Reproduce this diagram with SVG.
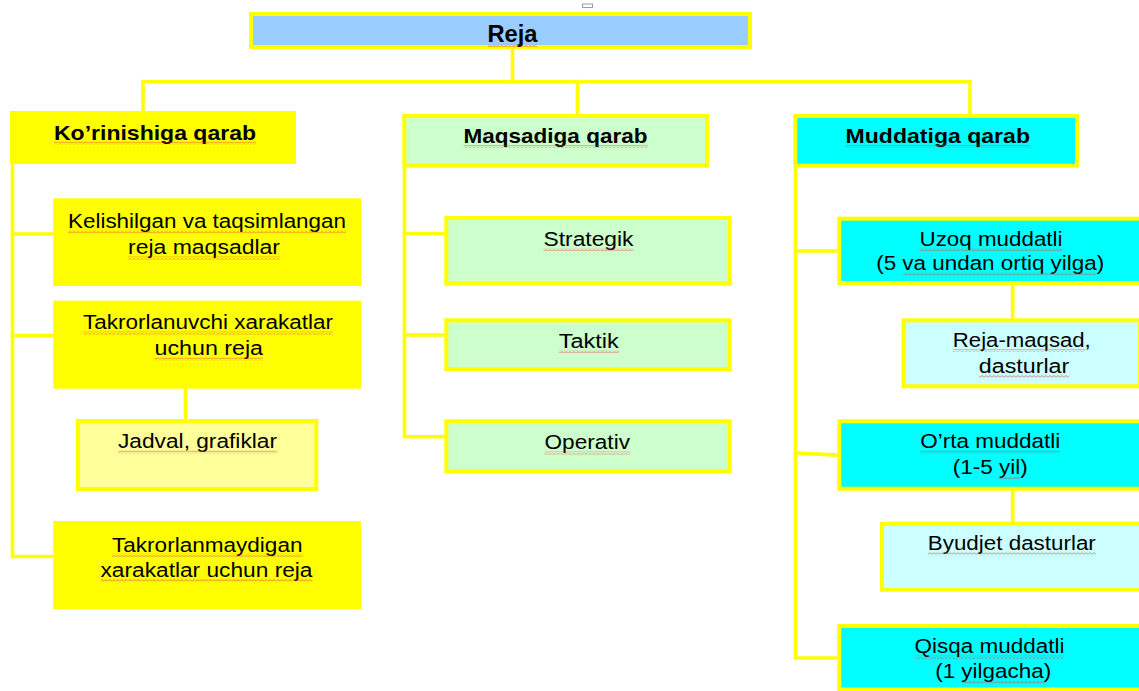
<svg xmlns="http://www.w3.org/2000/svg" width="1139" height="691" viewBox="0 0 1139 691">
  <style>
    .box { stroke: #FFFF00; stroke-width: 4; }
    .yel { fill: #FFFF00; }
    .pale { fill: #FFFF99; }
    .blue { fill: #99CCFF; }
    .green { fill: #CCFFCC; }
    .cyan { fill: #00FFFF; }
    .lcyan { fill: #CCFFFF; }
    .wire { stroke: #FFFF00; stroke-width: 3.6; fill: none; stroke-linecap: square; }
    text { font-family: "Liberation Sans", Arial, sans-serif; fill: #000; }
    .h { font-weight: bold; font-size: 21px; }
    .t { font-size: 20px; }
    .sq { fill: url(#squiggle); }
  </style>
  <defs>
    <pattern id="squiggle" width="4" height="3" patternUnits="userSpaceOnUse">
      <path d="M0,2.5 L2,0.5 L4,2.5" stroke="#E83A3A" stroke-width="0.9" fill="none" opacity="0.8"/>
    </pattern>
  </defs>

  <rect x="582.5" y="4" width="10" height="3.5" fill="#fff" stroke="#8CA0B8" stroke-width="1"/>

  <!-- connectors -->
  <g id="connectors" class="wire">
    <path d="M512.5,49 V81.7"/>
    <path d="M143,81.7 H970"/>
    <path d="M143,81.7 V111"/>
    <path d="M577.5,81.7 V114"/>
    <path d="M970,81.7 V114"/>
    <!-- left branch -->
    <path d="M12.5,164 V556.5 H53"/>
    <path d="M12.5,234 H53"/>
    <path d="M12.5,335.5 H53"/>
    <path d="M185.5,388.7 V419"/>
    <!-- middle branch -->
    <path d="M404.5,167.7 V436.7 H444"/>
    <path d="M404.5,233.5 H444"/>
    <path d="M404.5,335 H444"/>
    <!-- right branch -->
    <path d="M795.5,167.7 V658 H837"/>
    <path d="M795.5,251 H837"/>
    <path d="M795.5,453 L837,455"/>
    <path d="M1012.7,285 V318.3"/>
    <path d="M1012.7,490.7 V521.7"/>
  </g>

  <g id="reja">
    <rect class="box blue" x="251" y="14" width="499" height="33"/>
    <text class="h" x="487.5" y="42" font-size="23" textLength="50" lengthAdjust="spacingAndGlyphs" style="font-size:23px">Reja</text>
    <rect class="sq" x="488" y="44" width="49" height="3"/>
  </g>

  <g id="korinishiga">
    <rect class="yel" x="10" y="111" width="286" height="53"/>
    <text class="h" x="54" y="139.5" textLength="202" lengthAdjust="spacingAndGlyphs">Ko’rinishiga qarab</text>
    <rect class="sq" x="54" y="141.5" width="202" height="3"/>
  </g>

  <g id="kelishilgan">
    <rect class="yel" x="53.3" y="198.3" width="307.7" height="87.7"/>
    <text class="t" x="68" y="228.3" textLength="278" lengthAdjust="spacingAndGlyphs">Kelishilgan va taqsimlangan</text>
    <text class="t" x="128" y="254" textLength="152" lengthAdjust="spacingAndGlyphs">reja maqsadlar</text>
    <rect class="sq" x="68" y="230.5" width="278" height="3"/>
    <rect class="sq" x="128" y="256.5" width="152" height="3"/>
  </g>

  <g id="takrorlanuvchi">
    <rect class="yel" x="53.3" y="300.7" width="307.7" height="88"/>
    <text class="t" x="83" y="329.3" textLength="250" lengthAdjust="spacingAndGlyphs">Takrorlanuvchi xarakatlar</text>
    <text class="t" x="154.5" y="355" textLength="108.5" lengthAdjust="spacingAndGlyphs">uchun reja</text>
    <rect class="sq" x="83" y="331.5" width="250" height="3"/>
    <rect class="sq" x="154.5" y="357.5" width="108.5" height="3"/>
  </g>

  <g id="jadval">
    <rect class="box pale" x="78" y="421" width="238.3" height="68"/>
    <text class="t" x="118" y="448.3" textLength="159" lengthAdjust="spacingAndGlyphs">Jadval, grafiklar</text>
    <rect class="sq" x="118" y="450.5" width="159" height="3"/>
  </g>

  <g id="takrorlanmaydigan">
    <rect class="yel" x="53.3" y="521" width="307.7" height="88"/>
    <text class="t" x="112" y="551.7" textLength="190.5" lengthAdjust="spacingAndGlyphs">Takrorlanmaydigan</text>
    <text class="t" x="100.5" y="576.7" textLength="212" lengthAdjust="spacingAndGlyphs">xarakatlar uchun reja</text>
    <rect class="sq" x="112" y="553.8" width="190.5" height="3"/>
    <rect class="sq" x="100.5" y="578.8" width="212" height="3"/>
  </g>

  <g id="maqsadiga">
    <rect class="box green" x="404.3" y="116" width="302.7" height="49.7"/>
    <text class="h" x="463.5" y="142.7" textLength="184" lengthAdjust="spacingAndGlyphs">Maqsadiga qarab</text>
    <rect class="sq" x="463.5" y="145" width="184" height="3"/>
  </g>

  <g id="strategik">
    <rect class="box green" x="446.3" y="218" width="283.4" height="65.7"/>
    <text class="t" x="543.5" y="245.7" textLength="90" lengthAdjust="spacingAndGlyphs">Strategik</text>
    <rect class="sq" x="543.5" y="248" width="90" height="3"/>
  </g>

  <g id="taktik">
    <rect class="box green" x="446.3" y="320.3" width="283.4" height="48.7"/>
    <text class="t" x="558.8" y="347.7" textLength="60" lengthAdjust="spacingAndGlyphs">Taktik</text>
    <rect class="sq" x="558.8" y="350" width="60" height="3"/>
  </g>

  <g id="operativ">
    <rect class="box green" x="446.3" y="421.3" width="283.4" height="50"/>
    <text class="t" x="544.5" y="449" textLength="85.5" lengthAdjust="spacingAndGlyphs">Operativ</text>
    <rect class="sq" x="544.5" y="451.5" width="85.5" height="3"/>
  </g>

  <g id="muddatiga">
    <rect class="box cyan" x="795.3" y="116" width="281.7" height="49.7"/>
    <text class="h" x="845.5" y="142.7" textLength="184.5" lengthAdjust="spacingAndGlyphs">Muddatiga qarab</text>
    <rect class="sq" x="845.5" y="145" width="184.5" height="3"/>
  </g>

  <g id="uzoq">
    <rect class="box cyan" x="839.3" y="218.7" width="301.7" height="64.3"/>
    <text class="t" x="919.5" y="245.7" textLength="143" lengthAdjust="spacingAndGlyphs">Uzoq muddatli</text>
    <text class="t" x="876.2" y="270" textLength="228" lengthAdjust="spacingAndGlyphs">(5 va undan ortiq yilga)</text>
    <rect class="sq" x="919.5" y="248" width="143" height="3"/>
    <rect class="sq" x="903" y="272.3" width="193" height="3"/>
  </g>

  <g id="reja-maqsad">
    <rect class="box lcyan" x="903.7" y="320.3" width="236.3" height="66"/>
    <text class="t" x="952.8" y="346.7" textLength="138" lengthAdjust="spacingAndGlyphs">Reja-maqsad,</text>
    <text class="t" x="978.8" y="372.7" textLength="90.5" lengthAdjust="spacingAndGlyphs">dasturlar</text>
    <rect class="sq" x="952.8" y="349" width="132" height="3"/>
    <rect class="sq" x="978.8" y="375" width="90.5" height="3"/>
  </g>

  <g id="orta">
    <rect class="box cyan" x="839.3" y="421.3" width="301.7" height="67.4"/>
    <text class="t" x="920.2" y="448.3" textLength="140" lengthAdjust="spacingAndGlyphs">O’rta muddatli</text>
    <text class="t" x="952.8" y="474" textLength="75" lengthAdjust="spacingAndGlyphs">(1-5 yil)</text>
    <rect class="sq" x="920.2" y="450.6" width="140" height="3"/>
    <rect class="sq" x="999" y="476.3" width="21" height="3"/>
  </g>

  <g id="byudjet">
    <rect class="box lcyan" x="882" y="523.7" width="259" height="66"/>
    <text class="t" x="927.8" y="550" textLength="168" lengthAdjust="spacingAndGlyphs">Byudjet dasturlar</text>
    <rect class="sq" x="927.8" y="552.3" width="168" height="3"/>
  </g>

  <g id="qisqa">
    <rect class="box cyan" x="839.3" y="626" width="301.7" height="63.5"/>
    <text class="t" x="914.5" y="653.3" textLength="150" lengthAdjust="spacingAndGlyphs">Qisqa muddatli</text>
    <text class="t" x="935.2" y="678.3" textLength="116" lengthAdjust="spacingAndGlyphs">(1 yilgacha)</text>
    <rect class="sq" x="914.5" y="655.6" width="150" height="3"/>
    <rect class="sq" x="961.7" y="680.6" width="84" height="3"/>
  </g>
</svg>
